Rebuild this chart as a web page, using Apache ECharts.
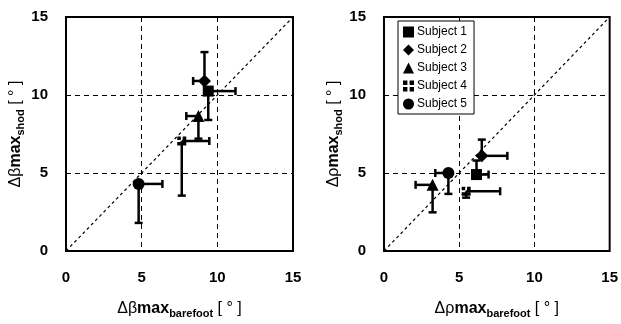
<!DOCTYPE html>
<html>
<head>
<meta charset="utf-8">
<script src="https://cdn.jsdelivr.net/npm/echarts@6/dist/echarts.min.js"></script>
<style>
  html, body { margin: 0; padding: 0; background: #fff; }
  #chart { width: 621px; height: 324px; }
</style>
</head>
<body>
<div id="chart"></div>
<script>
// data
var subjects = ['Subject 1', 'Subject 2', 'Subject 3', 'Subject 4', 'Subject 5'];
var ticks = [0, 5, 10, 15];

// Δβmax (left panel)
var betaX   = [9.4, 9.15, 8.75, 7.65, 4.8];
var betaY   = [10.25, 10.9, 8.65, 7.05, 4.3];
var betaXLo = [9.4, 8.4, 7.95, 7.65, 4.8];
var betaXHi = [11.2, 9.15, 8.75, 9.47, 6.37];
var betaYLo = [8.4, 10.9, 7.2, 3.55, 1.8];
var betaYHi = [10.25, 12.75, 8.65, 7.05, 4.3];

// Δρmax (right panel)
var rhoX   = [6.15, 6.5, 3.23, 5.46, 4.28];
var rhoY   = [4.9, 6.1, 4.24, 3.83, 5.0];
var rhoXLo = [6.15, 6.5, 2.1, 5.46, 3.41];
var rhoXHi = [6.95, 8.2, 3.23, 7.72, 4.28];
var rhoYLo = [4.9, 6.1, 2.48, 3.42, 3.66];
var rhoYHi = [5.8, 7.14, 4.24, 3.83, 5.0];

var symbols = [
    'rect',
    'diamond',
    'triangle',
    'path://M0,0h4v4h-4zM6,0h4v4h-4zM0,6h4v4h-4zM6,6h4v4h-4z',
    'circle'
];
var symbolSizes = [11, 13, 12, 9, 12];

var FONT = '"Liberation Sans", Arial, sans-serif';

function nameRich() {
    return {
        a: { fontSize: 16, fontFamily: FONT, color: '#000', lineHeight: 20, verticalAlign: 'middle' },
        b: { fontSize: 16, fontFamily: FONT, fontWeight: 'bold', color: '#000', lineHeight: 20, verticalAlign: 'middle' },
        c: { fontSize: 11, fontFamily: FONT, fontWeight: 'bold', color: '#000', lineHeight: 10, verticalAlign: 'bottom' }
    };
}

function makeAxis(idx, name) {
    return {
        type: 'value',
        gridIndex: idx,
        min: 0, max: 15, interval: 5,
        name: name,
        nameLocation: 'middle',
        nameTextStyle: { rich: nameRich() },
        axisLine: { show: false },
        axisTick: { show: false },
        axisLabel: {
            color: '#000', fontSize: 15, fontWeight: 'bold', fontFamily: FONT,
            formatter: function (v) { return ticks.indexOf(v) >= 0 ? String(v) : ''; }
        },
        splitLine: { show: true, lineStyle: { color: '#000', width: 1, type: [5, 4] } }
    };
}

function errorRows(x, y, xl, xh, yl, yh) {
    return x.map(function (v, i) { return [v, y[i], xl[i], xh[i], yl[i], yh[i]]; });
}

function renderErr(params, api) {
    var x = api.value(0), y = api.value(1);
    var xl = api.value(2), xh = api.value(3), yl = api.value(4), yh = api.value(5);
    var style = { stroke: '#000', lineWidth: 2.5 };
    var cap = 4;
    var kids = [];
    function seg(p, q) {
        kids.push({ type: 'line', shape: { x1: p[0], y1: p[1], x2: q[0], y2: q[1] }, style: style });
    }
    if (xh > xl) {
        var a = api.coord([xl, y]), b = api.coord([xh, y]);
        seg(a, b);
        if (xl < x) seg([a[0], a[1] - cap], [a[0], a[1] + cap]);
        if (xh > x) seg([b[0], b[1] - cap], [b[0], b[1] + cap]);
    }
    if (yh > yl) {
        var c = api.coord([x, yl]), d = api.coord([x, yh]);
        seg(c, d);
        if (yl < y) seg([c[0] - cap, c[1]], [c[0] + cap, c[1]]);
        if (yh > y) seg([d[0] - cap, d[1]], [d[0] + cap, d[1]]);
    }
    return { type: 'group', children: kids };
}

var series = [];
[0, 1].forEach(function (g) {
    series.push({
        name: 'diag' + g,
        type: 'line',
        xAxisIndex: g, yAxisIndex: g,
        data: [[0, 0], [15, 15]],
        showSymbol: false, silent: true,
        lineStyle: { color: '#000', width: 1.2, type: [3, 3] },
        z: 1
    });
});
series.push({
    name: 'errBeta', type: 'custom', xAxisIndex: 0, yAxisIndex: 0,
    data: errorRows(betaX, betaY, betaXLo, betaXHi, betaYLo, betaYHi),
    encode: { x: 0, y: 1 }, renderItem: renderErr, z: 2
});
series.push({
    name: 'errRho', type: 'custom', xAxisIndex: 1, yAxisIndex: 1,
    data: errorRows(rhoX, rhoY, rhoXLo, rhoXHi, rhoYLo, rhoYHi),
    encode: { x: 0, y: 1 }, renderItem: renderErr, z: 2
});
subjects.forEach(function (s, i) {
    series.push({
        name: s, type: 'scatter', xAxisIndex: 0, yAxisIndex: 0,
        symbol: symbols[i], symbolSize: symbolSizes[i],
        itemStyle: { color: '#000', opacity: 1 },
        data: [[betaX[i], betaY[i]]], z: 3
    });
    series.push({
        name: s, type: 'scatter', xAxisIndex: 1, yAxisIndex: 1,
        symbol: symbols[i], symbolSize: symbolSizes[i],
        itemStyle: { color: '#000', opacity: 1 },
        data: [[rhoX[i], rhoY[i]]], z: 3
    });
});

var option = {
    backgroundColor: '#fff',
    animation: false,
    grid: [
        { left: 66, top: 17, width: 227, height: 242, show: true, borderColor: '#000', borderWidth: 2 },
        { left: 384, top: 17, width: 229, height: 241, show: true, borderColor: '#000', borderWidth: 2 }
    ],
    legend: {
        data: subjects.map(function (s, i) { return { name: s, icon: symbols[i] }; }),
        orient: 'vertical',
        left: 398, top: 21,
        itemWidth: 11, itemHeight: 11, itemGap: 6,
        padding: [5, 7, 4, 5],
        borderColor: '#000', borderWidth: 1,
        backgroundColor: '#fff',
        textStyle: { color: '#000', fontSize: 12, fontFamily: FONT, padding: [0, 0, 0, -2] },
        z: 10
    },
    xAxis: [
        Object.assign(makeAxis(0, '{a|Δβ}{b|max}{c|barefoot}{a| [ ° ]}'), { nameGap: 48 }),
        Object.assign(makeAxis(1, '{a|Δρ}{b|max}{c|barefoot}{a| [ ° ]}'), { nameGap: 48 })
    ],
    yAxis: [
        Object.assign(makeAxis(0, '{a|Δβ}{b|max}{c|shod}{a| [ ° ]}'), { nameGap: 40 }),
        Object.assign(makeAxis(1, '{a|Δρ}{b|max}{c|shod}{a| [ ° ]}'), { nameGap: 40 })
    ],
    series: series
};
option.xAxis.forEach(function (a) { a.axisLabel.margin = 19; });
option.yAxis.forEach(function (a) { a.axisLabel.margin = 18; });

var myChart = echarts.init(document.getElementById('chart'));
myChart.setOption(option);
</script>
</body>
</html>
